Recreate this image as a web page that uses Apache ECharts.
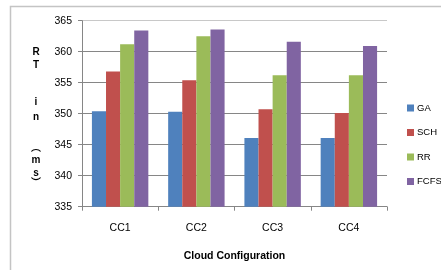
<!DOCTYPE html>
<html>
<head>
<meta charset="utf-8">
<script src="https://cdn.jsdelivr.net/npm/echarts@6/dist/echarts.min.js"></script>
<style>
  html, body { margin: 0; padding: 0; background: #fff; }
  #chart { width: 441px; height: 270px; }
</style>
</head>
<body>
<div id="chart"></div>
<script>
// data
var categories = ['CC1', 'CC2', 'CC3', 'CC4'];
var seriesNames = ['GA', 'SCH', 'RR', 'FCFS'];
var gaValues = [350.4, 350.3, 346.1, 346.1];
var schValues = [356.8, 355.4, 350.7, 350.1];
var rrValues = [361.2, 362.5, 356.2, 356.2];
var fcfsValues = [363.4, 363.6, 361.6, 360.9];
var yMin = 335, yMax = 365, yStep = 5;

var colors = ['#4f81bd', '#c0504d', '#9bbb59', '#8064a2'];
var allValues = [gaValues, schValues, rrValues, fcfsValues];

// vertical axis title, one letter per line
var titleLetters = [
  { t: 'R', y: 52 }, { t: 'T', y: 65 },
  { t: 'i', y: 102 }, { t: 'n', y: 117 },
  { t: '︵', y: 148 }, { t: 'm', y: 160 }, { t: 's', y: 173 }, { t: '︶', y: 183 }
];

var chartDom = echarts.init(document.getElementById('chart'));

var graphics = [{
  type: 'rect',
  shape: { x: 10.5, y: 6.5, width: 440, height: 280 },
  style: { fill: 'none', stroke: '#c4c4c4', lineWidth: 1.5 },
  silent: true
}];
titleLetters.forEach(function (l) {
  graphics.push({
    type: 'text',
    x: 36, y: l.y,
    style: {
      text: l.t, fill: '#000',
      font: 'bold 10px "Liberation Sans", "Noto Sans CJK SC"',
      align: 'center', verticalAlign: 'middle'
    }
  });
});

chartDom.setOption({
  animation: false,
  color: colors,
  grid: { left: 82, right: 54, top: 20.7, bottom: 63.3 },
  legend: {
    orient: 'vertical',
    left: 407, top: 103,
    padding: 0,
    itemWidth: 7, itemHeight: 7, itemGap: 14.5,
    icon: 'rect',
    data: seriesNames,
    textStyle: { fontFamily: 'Liberation Sans', fontSize: 9.5, color: '#000', overflow: 'none', width: 40, padding: [0, 0, 0, -2] }
  },
  xAxis: {
    type: 'category',
    data: categories,
    name: 'Cloud Configuration',
    nameLocation: 'middle',
    nameGap: 44,
    nameTextStyle: { fontFamily: 'Liberation Sans', fontSize: 10.5, fontWeight: 'bold', color: '#000' },
    axisLine: { lineStyle: { color: '#868686' } },
    axisTick: { show: true, length: 4, lineStyle: { color: '#868686' } },
    axisLabel: { margin: 16, fontFamily: 'Liberation Sans', fontSize: 10.5, color: '#000' }
  },
  yAxis: {
    type: 'value',
    min: yMin, max: yMax, interval: yStep,
    axisLine: { show: true, lineStyle: { color: '#868686' } },
    axisTick: { show: true, length: 4, lineStyle: { color: '#868686' } },
    axisLabel: { margin: 10, fontFamily: 'Liberation Sans', fontSize: 10.5, color: '#000' },
    splitLine: { lineStyle: { color: ['#868686', '#868686', '#868686', '#868686', '#868686', '#868686', '#c8c8c8'] } }
  },
  graphic: graphics,
  series: seriesNames.map(function (name, i) {
    return {
      name: name,
      type: 'bar',
      data: allValues[i],
      barGap: '0%',
      barCategoryGap: '26%'
    };
  })
});
</script>
</body>
</html>
